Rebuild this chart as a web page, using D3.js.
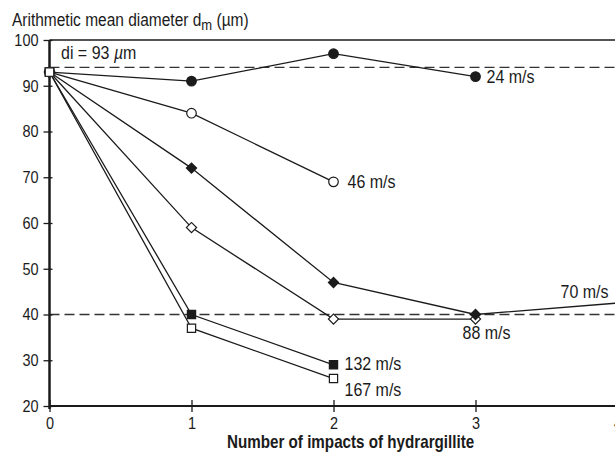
<!DOCTYPE html>
<html>
<head>
<meta charset="utf-8">
<script src="https://cdn.jsdelivr.net/npm/d3@7"></script>
<style>
  html, body { margin: 0; padding: 0; background: #fff; }
  svg { display: block; font-family: "Liberation Sans", Arial, Helvetica, sans-serif; }
</style>
</head>
<body>
<svg id="chart" width="615" height="454"></svg>
<script>
// Impact counts on the x axis
const impacts = [0, 1, 2, 3, 4];
const xTickLabels = ["0", "1", "2", "3", "4"];
const yTicks = [20, 30, 40, 50, 60, 70, 80, 90, 100];

// Arithmetic mean diameter (µm) after each impact, per impact velocity
const v24 = [93, 91, 97, 92];
const v46 = [93, 84, 69];
const v70 = [93, 72, 47, 40, 42.5];
const v88 = [93, 59, 39, 39];
const v132 = [93, 40, 29];
const v167 = [93, 37, 26];

const seriesLabels = ["24 m/s", "46 m/s", "70 m/s", "88 m/s", "132 m/s", "167 m/s"];
const seriesSymbols = ["circle", "circle", "diamond", "diamond", "square", "square"];
const seriesFilled = [true, false, true, false, true, false];

// Reference levels (dashed)
const refLevels = [94, 40];

const W = 615, H = 454;
const svg = d3.select("#chart");
const x = d3.scaleLinear().domain([0, 4]).range([49.5, 617.5]);
const y = d3.scaleLinear().domain([20, 100]).range([406, 40]);
const ink = "#1b1b1b";
const fontStack = "'Liberation Sans', Arial, sans-serif";
const textStretch = 1.18; // glyphs are set slightly tall

// Frame: top border at 100
svg.append("line")
  .attr("x1", x(0)).attr("x2", W).attr("y1", y(100)).attr("y2", y(100))
  .attr("stroke", ink).attr("stroke-width", 1.5);

// Dashed reference levels
svg.selectAll("line.ref").data(refLevels).enter().append("line")
  .attr("class", "ref")
  .attr("x1", x(0)).attr("x2", W)
  .attr("y1", d => y(d)).attr("y2", d => y(d))
  .attr("stroke", "#333").attr("stroke-width", 1.3)
  .attr("stroke-dasharray", "10,5");

// Y axis
const yAxis = d3.axisLeft(y).tickValues(yTicks).tickSize(6).tickPadding(5);
const gy = svg.append("g").attr("transform", `translate(${x(0)},0)`).call(yAxis);
gy.select(".domain").attr("stroke", ink).attr("stroke-width", 2.5).attr("d", `M0,${y(20) + 3}V${y(100)}`);
gy.selectAll(".tick line").attr("stroke", ink).attr("stroke-width", 1.3).attr("x1", 3);
gy.selectAll(".tick text").attr("fill", ink).style("font-size", "14.5px").style("font-family", fontStack);

// X axis
const xAxis = d3.axisBottom(x).tickValues(impacts).tickFormat((d, i) => xTickLabels[i]).tickSize(6).tickPadding(6);
const gx = svg.append("g").attr("transform", `translate(0,${y(20)})`).call(xAxis);
gx.select(".domain").attr("stroke", ink).attr("stroke-width", 2).attr("d", `M${x(0)},0H${W}`);
gx.selectAll(".tick line").attr("stroke", ink).attr("stroke-width", 1.3).attr("y1", -6);
gx.selectAll(".tick text").attr("fill", ink).style("font-size", "14.5px").style("font-family", fontStack);

// Series lines
const allSeries = [v24, v46, v70, v88, v132, v167];
const line = d3.line().x((d, i) => x(impacts[i])).y(d => y(d));

allSeries.forEach(vals => {
  svg.append("path").datum(vals)
    .attr("d", line)
    .attr("fill", "none").attr("stroke", ink).attr("stroke-width", 1.3);
});

// Markers: diamonds are squares turned 45 degrees
const symbolType = { circle: d3.symbolCircle, diamond: d3.symbolSquare, square: d3.symbolSquare };
const symbolSize = { circle: 72, diamond: 52, square: 68 };
const symbolRot = { circle: 0, diamond: 45, square: 0 };

// draw from last series to first so the upper series sit on top
for (let s = allSeries.length - 1; s >= 0; s--) {
  const vals = allSeries[s];
  const kind = seriesSymbols[s];
  const sym = d3.symbol().type(symbolType[kind]).size(symbolSize[kind]);
  svg.append("g").selectAll("path").data(vals).enter().append("path")
    .filter((d, i) => x(impacts[i]) < W - 2)
    .attr("d", sym)
    .attr("transform", (d, i) => `translate(${x(impacts[i])},${y(d)}) rotate(${symbolRot[kind]})`)
    .attr("fill", seriesFilled[s] ? ink : "#fff")
    .attr("stroke", ink).attr("stroke-width", 1.2);
}
// the common starting point drawn as an open square
svg.append("path")
  .attr("d", d3.symbol().type(d3.symbolSquare).size(72))
  .attr("transform", `translate(${x(0)},${y(v167[0])})`)
  .attr("fill", "#fff").attr("stroke", ink).attr("stroke-width", 1.2);

// Series labels
const labelPos = [
  { s: 0, i: 3, dx: 11, dy: 6, anchor: "start" },
  { s: 1, i: 2, dx: 14, dy: 5, anchor: "start" },
  { s: 2, i: 4, dx: -9, dy: -6, anchor: "end" },
  { s: 3, i: 3, dx: -13, dy: 19, anchor: "start" },
  { s: 4, i: 2, dx: 11, dy: 5, anchor: "start" },
  { s: 5, i: 2, dx: 11, dy: 17, anchor: "start" }
];
svg.append("g").selectAll("text").data(labelPos).enter().append("text")
  .attr("x", d => x(impacts[d.i]) + d.dx)
  .attr("y", d => y(allSeries[d.s][d.i]) + d.dy)
  .attr("text-anchor", d => d.anchor)
  .attr("fill", ink).style("font-size", "16px")
  .text(d => seriesLabels[d.s]);

// Initial diameter note
const di = svg.append("text").attr("x", 61).attr("y", 58).attr("fill", ink).style("font-size", "16px");
di.append("tspan").text("di = 93 ");
di.append("tspan").attr("font-style", "italic").text("µ");
di.append("tspan").text("m");

// Y axis title
const yt = svg.append("text").attr("x", 12).attr("y", 26).attr("fill", ink).style("font-size", "15.5px");
yt.append("tspan").text("Arithmetic mean diameter d");
yt.append("tspan").attr("dy", 3).style("font-size", "13px").text("m");
yt.append("tspan").attr("dy", -3).text(" (µm)");

// X axis title
svg.append("text").attr("x", 227).attr("y", 447).attr("text-anchor", "start")
  .attr("fill", ink).style("font-size", "15.2px").style("font-weight", "bold")
  .text("Number of impacts of hydrargillite");

// Stretch every text vertically about its own middle
svg.selectAll("text").each(function () {
  const bb = this.getBBox();
  const cy = bb.y + bb.height * 0.6;
  d3.select(this).attr("transform",
    `translate(0,${cy}) scale(1,${textStretch}) translate(0,${-cy})`);
});
</script>
</body>
</html>
